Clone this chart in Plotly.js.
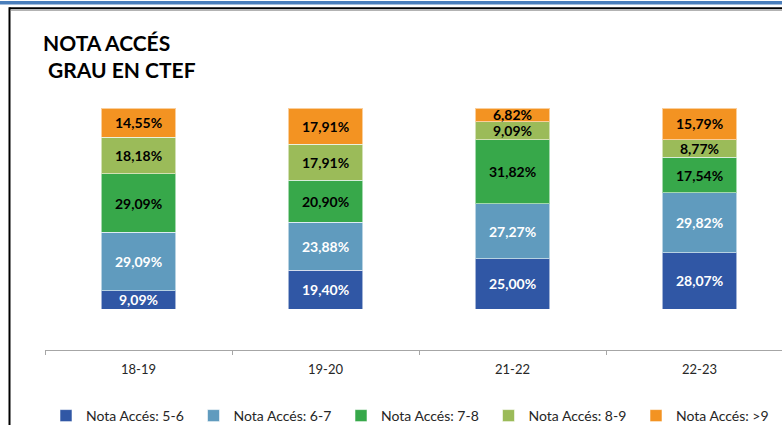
<!DOCTYPE html>
<html>
<head>
<meta charset="utf-8">
<script src="https://cdn.plot.ly/plotly-3.0.1.min.js"></script>
<style>
html,body{margin:0;padding:0;background:#fff;}
#chart{width:782px;height:425px;}
</style>
</head>
<body>
<div id="chart"></div>
<script>
const categories = ['18-19', '19-20', '21-22', '22-23'];
const seriesNames = ['Nota Accés: 5-6', 'Nota Accés: 6-7', 'Nota Accés: 7-8', 'Nota Accés: 8-9', 'Nota Accés: >9'];
const nota56 = [9.09, 19.40, 25.00, 28.07];
const nota67 = [29.09, 23.88, 27.27, 29.82];
const nota78 = [29.09, 20.90, 31.82, 17.54];
const nota89 = [18.18, 17.91, 9.09, 8.77];
const nota9 = [14.55, 17.91, 6.82, 15.79];
const seriesValues = [nota56, nota67, nota78, nota89, nota9];
const colors = ['#3057A5', '#609BBE', '#37A84A', '#9BBB59', '#F39322'];
const labelColors = ['#ffffff', '#ffffff', '#000000', '#000000', '#000000'];
const titleText = 'NOTA ACCÉS<br>\u00a0GRAU EN CTEF';

const FONT = 'Lato, "Open Sans", sans-serif';

const traces = seriesValues.map((vals, i) => ({
  type: 'bar',
  name: seriesNames[i],
  x: categories,
  y: vals,
  width: 0.4,
  marker: {color: colors[i], line: {color: 'rgba(255,255,255,0.55)', width: 1}},
  texttemplate: '%{y:.2f}%',
  textposition: 'inside',
  insidetextanchor: 'middle',
  constraintext: 'none',
  textfont: {family: FONT, size: 14, color: labelColors[i], weight: 'bold'},
  hoverinfo: 'skip'
}));

// plot area geometry (px): x 45..782, y 108..350
const PL = 45, PW = 737, PT = 108, PH = 242;
const px = v => (v - PL) / PW;
const py = v => (PT + PH - v) / PH;

const layout = {
  width: 782,
  height: 425,
  margin: {l: PL, r: 0, t: PT, b: 425 - PT - PH, pad: 0},
  paper_bgcolor: '#ffffff',
  plot_bgcolor: '#ffffff',
  separators: ',.',
  barmode: 'stack',
  hovermode: false,
  showlegend: true,
  font: {family: FONT, color: '#404040'},
  title: {
    text: titleText,
    font: {family: FONT, size: 21, color: '#000000', weight: 'bold'},
    xref: 'container', yref: 'container',
    x: 43 / 782, xanchor: 'left',
    y: 1 - 51 / 425, yanchor: 'top'
  },
  xaxis: {
    type: 'category',
    range: [-0.5, -0.5 + PW / 187],
    tickson: 'boundaries',
    ticks: 'outside',
    ticklen: 4,
    tickcolor: '#A6A6A6',
    showline: true,
    linecolor: '#A6A6A6',
    linewidth: 1,
    showgrid: false,
    zeroline: false,
    ticklabelstandoff: 7,
    tickfont: {family: FONT, size: 13, color: '#262626'},
    fixedrange: true
  },
  yaxis: {
    range: [-20.4, 100],
    visible: false,
    showgrid: false,
    zeroline: false,
    fixedrange: true
  },
  legend: {
    orientation: 'h',
    traceorder: 'normal',
    xref: 'container', yref: 'container',
    x: 46 / 782, xanchor: 'left',
    y: 1 - 416 / 425, yanchor: 'middle',
    entrywidth: 102.5,
    entrywidthmode: 'pixels',
    font: {family: FONT, size: 14, color: '#262626'},
    itemclick: false,
    itemdoubleclick: false
  },
  shapes: [
    {type: 'line', xref: 'paper', yref: 'paper', x0: px(0), x1: 1, y0: py(2.8), y1: py(2.8),
     line: {color: '#4A7EBB', width: 3.5}},
    {type: 'line', xref: 'paper', yref: 'paper', x0: px(9.5), x1: 1, y0: py(8.3), y1: py(8.3),
     line: {color: '#000000', width: 2}},
    {type: 'line', xref: 'paper', yref: 'paper', x0: px(11), x1: 1, y0: py(10.3), y1: py(10.3),
     line: {color: '#A0A0A0', width: 1}},
    {type: 'line', xref: 'paper', yref: 'paper', x0: px(9.5), x1: px(9.5), y0: py(7.3), y1: py(425),
     line: {color: '#000000', width: 2}}
  ]
};

Plotly.newPlot('chart', traces, layout, {displayModeBar: false, staticPlot: true});
</script>
</body>
</html>
